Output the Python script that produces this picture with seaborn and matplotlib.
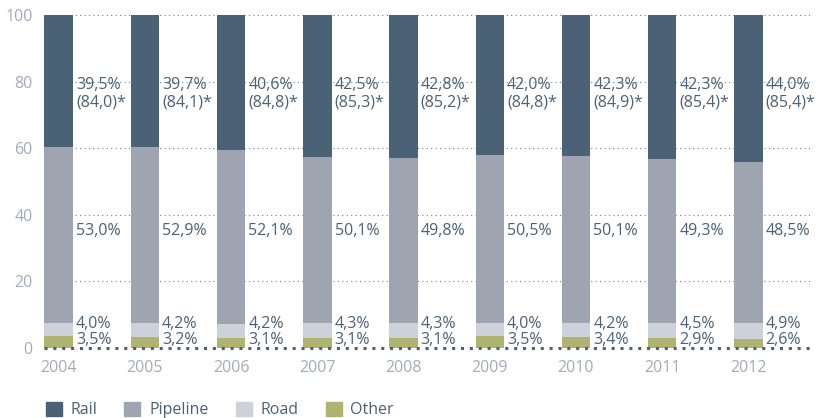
import matplotlib
matplotlib.use("Agg")
import matplotlib.pyplot as plt
from matplotlib.patches import Patch
import pandas as pd
import seaborn as sns

# modal split of freight, % (bars are 100% stacked)
years = ["2004", "2005", "2006", "2007", "2008", "2009", "2010", "2011", "2012"]
rail = [39.5, 39.7, 40.6, 42.5, 42.8, 42.0, 42.3, 42.3, 44.0]
rail_note = ["84,0", "84,1", "84,8", "85,3", "85,2", "84,8", "84,9", "85,4", "85,4"]
pipeline = [53.0, 52.9, 52.1, 50.1, 49.8, 50.5, 50.1, 49.3, 48.5]
road = [4.0, 4.2, 4.2, 4.3, 4.3, 4.0, 4.2, 4.5, 4.9]
other = [3.5, 3.2, 3.1, 3.1, 3.1, 3.5, 3.4, 2.9, 2.6]

c_rail = "#4b6176"
c_pipe = "#9ea5b1"
c_road = "#cdd1d9"
c_other = "#aeb46f"
c_text = "#4b6176"
c_tick = "#a3aab8"

df = pd.DataFrame({"year": years, "rail": rail, "pipeline": pipeline,
                   "road": road, "other": other})
df["l_other"] = df["other"]
df["l_road"] = df["l_other"] + df["road"]
df["l_pipe"] = df["l_road"] + df["pipeline"]
df["l_rail"] = 100.0  # rail fills the rest of the 100% bar

sns.set_style("white")
plt.rcParams["font.family"] = ["Open Sans", "DejaVu Sans"]

fig = plt.figure(figsize=(8.22, 4.18), dpi=100)
ax = fig.add_axes([0.0535, 0.1675, 0.9315, 0.7965])

# stacked bars: draw cumulative totals back to front
for col, c in [("l_rail", c_rail), ("l_pipe", c_pipe), ("l_road", c_road), ("l_other", c_other)]:
    sns.barplot(data=df, x="year", y=col, color=c, width=0.33, ax=ax,
                saturation=1, edgecolor="none", zorder=3)

fs = 11.5
for i in range(len(years)):
    x = i + 0.2
    ax.text(x, 76.3, f"{rail[i]:.1f}%\n({rail_note[i]})*".replace(".", ","),
            color=c_text, fontsize=fs, va="center", ha="left", linespacing=1.1)
    ax.text(x, 35.2, f"{pipeline[i]:.1f}%".replace(".", ","),
            color=c_text, fontsize=fs, va="center", ha="left")
    ax.text(x, 7.2, f"{road[i]:.1f}%".replace(".", ","),
            color=c_text, fontsize=fs, va="center", ha="left")
    ax.text(x, 2.4, f"{other[i]:.1f}%".replace(".", ","),
            color=c_text, fontsize=fs, va="center", ha="left")

ax.set_xlim(-0.17, 8.71)
ax.set_ylim(0, 100)
ax.set_yticks([0, 20, 40, 60, 80, 100])
for yv in [20, 40, 60, 80, 100]:
    ax.axhline(yv, color="#6d7d8e", lw=0.8, ls=(0, (1, 3)), zorder=1)
ax.axhline(0, color=c_rail, lw=2.2, ls=(0, (1, 1.9)), zorder=4, clip_on=False)

for s in ax.spines.values():
    s.set_visible(False)
ax.set_xlabel("")
ax.set_ylabel("")
ax.tick_params(axis="both", length=0, labelsize=11.5, colors=c_tick)
ax.tick_params(axis="y", pad=8)
ax.tick_params(axis="x", pad=9)

handles = [Patch(color=c_rail, label="Rail"), Patch(color=c_pipe, label="Pipeline"),
           Patch(color=c_road, label="Road"), Patch(color=c_other, label="Other")]
leg = fig.legend(handles=handles, loc="lower left", bbox_to_anchor=(0.038, -0.035),
                 ncol=4, frameon=False, fontsize=11.5, handlelength=1.0,
                 handleheight=1.0, handletextpad=0.55, columnspacing=1.7)
for t in leg.get_texts():
    t.set_color(c_text)

fig.savefig("out.png", dpi=100)
